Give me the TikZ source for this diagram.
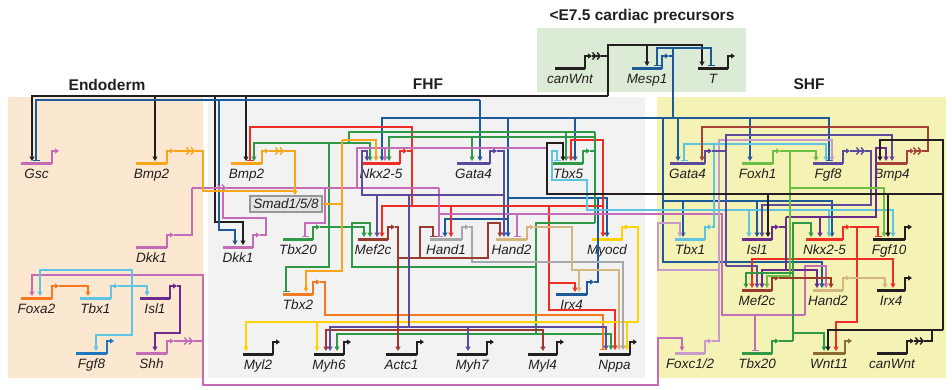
\documentclass[tikz,border=0pt]{standalone}
\usepackage{fontspec}
\setmainfont{Liberation Sans}
\usetikzlibrary{arrows.meta}
\definecolor{cblack}{HTML}{231F20}
\definecolor{cblue}{HTML}{1D5A99}
\definecolor{cred}{HTML}{EE2E24}
\definecolor{cgreen}{HTML}{2E9A47}
\definecolor{clgreen}{HTML}{6DBE45}
\definecolor{cpurple}{HTML}{5C4A9E}
\definecolor{cdpurple}{HTML}{6B2B8E}
\definecolor{clblue}{HTML}{5DC5E3}
\definecolor{cpink}{HTML}{C56CB8}
\definecolor{clilac}{HTML}{C79CCD}
\definecolor{corange}{HTML}{F8A51C}
\definecolor{cdorange}{HTML}{F47920}
\definecolor{cbrown}{HTML}{9B3B30}
\definecolor{cgray}{HTML}{A6A8AB}
\definecolor{ctan}{HTML}{D5B57E}
\definecolor{cyellow}{HTML}{FFD200}
\definecolor{cfgf}{HTML}{1C77BD}
\definecolor{colive}{HTML}{8B6B2F}
\definecolor{cbmp}{HTML}{A8413A}
\definecolor{bgpeach}{HTML}{FCE7D0}
\definecolor{bggray}{HTML}{F2F2F2}
\definecolor{bgyellow}{HTML}{F5F2B6}
\definecolor{bggreen}{HTML}{DCEBD5}
\tikzset{
  cn/.style={line width=1.4pt},
  act/.style={-{Triangle[length=4.5pt,width=5pt]}},
  rep/.style={-{Bar[width=7pt]}},
  sec/.style={-{Straight Barb[length=3pt,width=7pt]Straight Barb[length=3pt,width=7pt]}},
  genebar/.style={line width=3pt},
  prom/.style={line width=1.7pt,-{Triangle[length=4pt,width=5pt]}},
  lbl/.style={anchor=base,inner sep=0pt,text=cblack,font=\fontsize{13.5}{15}\selectfont\itshape},
  ttl/.style={anchor=base,inner sep=0pt,text=cblack,font=\fontsize{15.5}{18}\selectfont\bfseries},
  smadbox/.style={draw=cgray!90!black,line width=1.6pt,fill=black!10,inner sep=1.5pt,minimum width=72pt,minimum height=16pt,text=cblack,font=\fontsize{13.5}{15}\selectfont\itshape}
}
\newcommand{\gn}[6]{%
  \draw[genebar,#5] (#2,#4) -- (#3,#4);
  \draw[prom,#5] (#3,#4+1) -- (#3,#4-12) -- (#3+7,#4-12);
  \node[lbl] (#1) at ({(#2+#3)/2},#4+15) {#6};
}
\begin{document}
\begin{tikzpicture}[x=1pt,y=-1pt]
\useasboundingbox (0,0) rectangle (952,389);
% regions
\fill[bgpeach] (8,97) rectangle (203,378);
\fill[bggray] (208,97) rectangle (645,378);
\fill[bgyellow] (657,97) rectangle (946,378);
\fill[bggreen] (537,28) rectangle (746,92);
\node[ttl] (tEndo) at (107,90) {Endoderm};
\node[ttl] (tFHF) at (428,89) {FHF};
\node[ttl] (tSHF) at (809,89) {SHF};
\node[ttl] (tTop) at (642,20) {<E7.5 cardiac precursors};
% genes: top
\gn{cwnt}{555}{585}{68}{cblack}{canWnt}
\gn{mesp}{632}{662}{68}{cblue}{Mesp1}
\gn{tg}{698}{728}{68}{cblack}{T}
% endoderm
\gn{gsc}{21}{52}{163}{cpink}{Gsc}
\gn{bmpe}{136}{167}{163}{corange}{Bmp2}
\gn{dkke}{136}{167}{247}{cpink}{Dkk1}
\gn{foxa}{21}{52}{298}{cdorange}{Foxa2}
\gn{tbxe}{80}{111}{298}{clblue}{Tbx1}
\gn{isle}{140}{170}{298}{cdpurple}{Isl1}
\gn{fgfe}{76}{107}{353}{cfgf}{Fgf8}
\gn{shh}{136}{167}{353}{cpink}{Shh}
% FHF
\gn{bmpf}{231}{262}{163}{corange}{Bmp2}
\gn{nkxf}{362}{400}{163}{cred}{Nkx2-5}
\gn{gataf}{457}{490}{163}{cpurple}{Gata4}
\gn{tbxv}{553}{583}{163}{cgreen}{Tbx5}
\gn{dkkf}{223}{253}{247}{cpink}{Dkk1}
\gn{tbxtf}{283}{313}{239}{cgreen}{Tbx20}
\gn{mef}{358}{388}{239}{cbrown}{Mef2c}
\gn{hand}{430}{462}{239}{cgray}{Hand1}
\gn{handf}{496}{527}{239}{ctan}{Hand2}
\gn{myocd}{592}{622}{239}{cyellow}{Myocd}
\gn{tbxtwo}{283}{313}{294}{cdorange}{Tbx2}
\gn{irxf}{556}{587}{294}{cblue}{Irx4}
\gn{myltwo}{243}{273}{354}{cblack}{Myl2}
\gn{myhsix}{314}{344}{354}{cblack}{Myh6}
\gn{actc}{386}{417}{354}{cblack}{Actc1}
\gn{myhseven}{457}{487}{354}{cblack}{Myh7}
\gn{mylfour}{528}{557}{354}{cblack}{Myl4}
\gn{nppa}{599}{630}{354}{cblack}{Nppa}
\node[smadbox] (smad) at (286,204) {Smad1/5/8};
% SHF
\gn{gatas}{670}{705}{163}{cpurple}{Gata4}
\gn{foxh}{742}{773}{163}{clgreen}{Foxh1}
\gn{fgfs}{813}{843}{163}{cpurple}{Fgf8}
\gn{bmpfour}{877}{907}{163}{cbmp}{Bmp4}
\gn{tbxs}{675}{705}{239}{clblue}{Tbx1}
\gn{isls}{742}{772}{239}{cdpurple}{Isl1}
\gn{nkxs}{806}{843}{239}{cred}{Nkx2-5}
\gn{fgften}{873}{905}{239}{cblack}{Fgf10}
\gn{mefs}{742}{772}{290}{cbrown}{Mef2c}
\gn{hands}{813}{843}{290}{ctan}{Hand2}
\gn{irxs}{877}{905}{290}{cblack}{Irx4}
\gn{foxc}{675}{705}{353}{clilac}{Foxc1/2}
\gn{tbxts}{742}{772}{353}{cgreen}{Tbx20}
\gn{wnt}{813}{845}{353}{colive}{Wnt11}
\gn{cwnts}{877}{907}{353}{cblack}{canWnt}
% ---------- connectors ----------
% black canWnt (top)
\draw[cn,cblack,sec] (592,56) -- (601,56);
\draw[cn,cblack] (601,56) -- (608,56);
\draw[cn,cblack,act] (608,96) -- (608,45) -- (702,45) -- (702,66);
\draw[cn,cblack,act] (647,45) -- (647,66);
\draw[cn,cblack,act] (608,96) -- (32,96) -- (32,161);
\draw[cn,cblack,act] (155,96) -- (155,161);
\draw[cn,cblack,act] (246,96) -- (246,161);
\draw[cn,cblack,act] (215,96) -- (215,222) -- (243,222) -- (243,245);
% blue Mesp1
\draw[cn,cblue] (669,56) -- (673,56);
\draw[cn,cblue] (673,48) -- (673,118);
\draw[cn,cblue,rep] (673,48) -- (657,48) -- (657,66);
\draw[cn,cblue,rep] (673,48) -- (711,48) -- (711,66);
\draw[cn,cblue,act] (673,118) -- (382,118) -- (382,161);
\draw[cn,cblue,act] (480,100) -- (480,161);
\draw[cn,cblue,rep] (480,100) -- (36,100) -- (36,161);
\draw[cn,cblue,act] (219,100) -- (219,230) -- (235,230) -- (235,245);
\draw[cn,cblue,act] (575,118) -- (575,161);
\draw[cn,cblue,act] (508,118) -- (508,237);
\draw[cn,cblue,act] (508,198) -- (607,198) -- (607,237);
\draw[cn,cblue,act] (508,219) -- (445,219) -- (445,237);
\draw[cn,cblue] (594,282) -- (598,282) -- (598,198);
\draw[cn,cblue,rep] (673,118) -- (829,118) -- (829,161);
\draw[cn,cblue,act] (678,118) -- (678,161);
\draw[cn,cblue,act] (750,118) -- (750,161);
\draw[cn,cblue] (663,118) -- (663,201);
\draw[cn,cblue,act] (663,201) -- (832,201) -- (832,237);
\draw[cn,cblue,act] (683,201) -- (683,237);
\draw[cn,cblue,act] (757,201) -- (757,237);
\draw[cn,cblue,act] (663,201) -- (663,262) -- (822,262) -- (822,288);
% red Nkx2-5 FHF
\draw[cn,cred] (407,151) -- (412,151);
\draw[cn,cred,rep] (412,206) -- (412,127) -- (250,127) -- (250,161);
\draw[cn,cred,act] (412,206) -- (382,206) -- (382,237);
\draw[cn,cred,act] (412,206) -- (603,206) -- (603,237);
\draw[cn,cred,act] (451,206) -- (451,237);
\draw[cn,cred,act] (549,206) -- (549,310) -- (615,310) -- (615,350);
\draw[cn,cred,act] (549,283) -- (575,283) -- (575,292);
\draw[cn,cred,act] (603,206) -- (603,140) -- (571,140) -- (571,161);
% red Nkx2-5 SHF
\draw[cn,cred,rep] (850,227) -- (878,227) -- (878,237);
\draw[cn,cred,act] (857,227) -- (857,322) -- (836,322) -- (836,351);
\draw[cn,cred,act] (857,259) -- (893,259) -- (893,288);
\draw[cn,cred,act] (857,259) -- (752,259) -- (752,288);
% green Tbx5
\draw[cn,cgreen] (590,151) -- (595,151);
\draw[cn,cgreen] (595,132) -- (595,223);
\draw[cn,cgreen] (595,132) -- (349,132) -- (349,143);
\draw[cn,cgreen,act] (329,143) -- (254,143) -- (254,161);
\draw[cn,cgreen,act] (329,143) -- (370,143) -- (370,161);
\draw[cn,cgreen,act] (595,137) -- (389,137) -- (389,161);
\draw[cn,cgreen,act] (472,137) -- (472,161);
\draw[cn,cgreen,act] (566,132) -- (566,161);
\draw[cn,cgreen,rep] (329,143) -- (329,267) -- (286,267) -- (286,292);
\draw[cn,cgreen] (595,223) -- (536,223) -- (536,334);
\draw[cn,cgreen,act] (536,334) -- (337,334) -- (337,351);
\draw[cn,cgreen,act] (536,334) -- (611,334) -- (611,350);
\draw[cn,cgreen,act] (536,267) -- (352,267) -- (352,223) -- (370,223) -- (370,237);
\draw[cn,cgreen,act] (320,227) -- (364,227) -- (364,237);
% pink Dkk1 / Shh
\draw[cn,cpink] (174,235) -- (192,235) -- (192,188);
\draw[cn,cpink,sec] (192,188) -- (226,188);
\draw[cn,cpink] (226,188) -- (439,188);
\draw[cn,cpink] (260,235) -- (266,235) -- (266,218) -- (223,218) -- (223,188);
\draw[cn,cpink,rep] (325,188) -- (325,223) -- (305,223) -- (305,237);
\draw[cn,cpink,act] (357,188) -- (357,148) -- (385,148) -- (385,161);
\draw[cn,cpink] (385,148) -- (546,148);
\draw[cn,cpink,rep] (439,188) -- (439,237);
\draw[cn,cpink] (439,214) -- (722,214) -- (722,315) -- (805,315);
\draw[cn,cpink,rep] (517,214) -- (517,237);
\draw[cn,cpink,act] (805,315) -- (805,266) -- (826,266) -- (826,288);
\draw[cn,cpink,rep] (755,315) -- (755,351);
\draw[cn,cpink,sec] (174,341) -- (193,341);
\draw[cn,cpink] (193,341) -- (203,341);
\draw[cn,cpink,act] (203,341) -- (203,275) -- (32,275) -- (32,296);
\draw[cn,cpink,act] (203,341) -- (203,385) -- (658,385) -- (658,338) -- (682,338) -- (682,351);
% lilac Foxc1/2
\draw[cn,clilac,act] (712,341) -- (719,341) -- (719,140) -- (832,140) -- (832,161);
\draw[cn,clilac,act] (719,270) -- (658,270) -- (658,223) -- (680,223) -- (680,237);
% light blue Tbx1 SHF
\draw[cn,clblue] (712,227) -- (714,227) -- (714,144);
\draw[cn,clblue,rep] (714,144) -- (684,144) -- (684,161);
\draw[cn,clblue,act] (714,144) -- (826,144) -- (826,161);
\draw[cn,clblue,rep] (714,210) -- (587,210) -- (587,180) -- (552,180) -- (552,151) -- (557,151) -- (557,161);
\draw[cn,clblue,act] (714,210) -- (893,210) -- (893,237);
\draw[cn,clblue,act] (749,210) -- (749,237);
\draw[cn,clblue,act] (829,210) -- (829,237);
% endoderm
\draw[cn,clblue,act] (118,286) -- (147,286) -- (147,296);
\draw[cn,clblue,act] (132,286) -- (132,270) -- (40,270) -- (40,296);
\draw[cn,clblue,act] (132,286) -- (132,335) -- (96,335) -- (96,351);
\draw[cn,cdorange,act] (59,286) -- (88,286) -- (88,296);
\draw[cn,cdpurple,act] (177,286) -- (180,286) -- (180,333) -- (155,333) -- (155,351);
% orange Bmp2 / Smad
\draw[cn,corange,sec] (174,151) -- (195,151);
\draw[cn,corange] (195,151) -- (203,151) -- (203,191) -- (295,191);
\draw[cn,corange,sec] (269,151) -- (284,151);
\draw[cn,corange,act] (284,151) -- (295,151) -- (295,195);
\draw[cn,corange] (smad.east) -- (342,204);
\draw[cn,corange,act] (342,140) -- (342,271) -- (306,271) -- (306,292);
\draw[cn,corange,act] (342,140) -- (376,140) -- (376,161);
\draw[cn,cdorange,rep] (320,282) -- (325,282) -- (325,315) -- (603,315) -- (603,350);
% yellow Myocd
\draw[cn,cyellow] (629,227) -- (638,227) -- (638,322);
\draw[cn,cyellow,act] (638,322) -- (246,322) -- (246,351);
\draw[cn,cyellow,act] (317,322) -- (317,351);
\draw[cn,cyellow,act] (627,322) -- (627,350);
% gray Hand1
\draw[cn,cgray,act] (469,227) -- (472,227) -- (472,262) -- (623,262) -- (623,350);
% tan Hand2 FHF
\draw[cn,ctan,act] (534,227) -- (572,227) -- (572,270) -- (619,270) -- (619,350);
\draw[cn,ctan,act] (572,270) -- (579,270) -- (579,292);
% brown Mef2c FHF
\draw[cn,cbrown,act] (395,227) -- (398,227) -- (398,351);
\draw[cn,cbrown,act] (398,258) -- (488,258) -- (488,223) -- (500,223) -- (500,237);
\draw[cn,cbrown,rep] (420,258) -- (420,227) -- (433,227) -- (433,237);
\draw[cn,cbrown,act] (398,330) -- (326,330) -- (326,351);
\draw[cn,cbrown,act] (398,330) -- (543,330) -- (543,351);
% purple Gata4 FHF
\draw[cn,cpurple,act] (497,151) -- (504,151) -- (504,237);
\draw[cn,cpurple,act] (504,195) -- (362,195) -- (362,151) -- (367,151) -- (367,161);
\draw[cn,cpurple,act] (377,195) -- (377,237);
\draw[cn,cpurple] (409,195) -- (409,327);
\draw[cn,cpurple,act] (409,327) -- (330,327) -- (330,351);
\draw[cn,cpurple,act] (409,327) -- (606,327) -- (606,350);
\draw[cn,cpurple,act] (468,327) -- (468,351);
% purple Gata4 SHF
\draw[cn,cpurple] (712,151) -- (726,151);
\draw[cn,cpurple,act] (726,266) -- (726,135) -- (892,135) -- (892,161);
\draw[cn,cpurple,act] (726,266) -- (757,266) -- (757,288);
% dark purple Isl1 SHF
\draw[cn,cdpurple] (779,227) -- (786,227);
\draw[cn,cdpurple,act] (786,217) -- (786,270) -- (762,270) -- (762,288);
\draw[cn,cdpurple,act] (786,270) -- (817,270) -- (817,288);
\draw[cn,cdpurple,act] (786,217) -- (820,217) -- (820,237);
\draw[cn,cdpurple,act] (820,217) -- (876,217) -- (876,148) -- (886,148) -- (886,161);
% purple Fgf8 SHF
\draw[cn,cpurple,sec] (850,151) -- (865,151);
\draw[cn,cpurple,act] (865,151) -- (871,151) -- (871,205) -- (762,205) -- (762,237);
% light green Foxh1
\draw[cn,clgreen,act] (780,151) -- (816,151) -- (816,161);
\draw[cn,clgreen,act] (790,151) -- (790,188) -- (884,188) -- (884,237);
\draw[cn,clgreen,act] (790,188) -- (790,276) -- (767,276) -- (767,288);
% green Tbx20 SHF
\draw[cn,cgreen] (779,341) -- (793,341);
\draw[cn,cgreen,act] (793,341) -- (793,223) -- (811,223) -- (811,237);
\draw[cn,cgreen,act] (793,333) -- (824,333) -- (824,351);
\draw[cn,cgreen,act] (793,273) -- (746,273) -- (746,288);
% brown Mef2c SHF, tan Hand2 SHF
\draw[cn,cbrown,act] (779,278) -- (831,278) -- (831,288);
\draw[cn,ctan,act] (850,278) -- (885,278) -- (885,288);
% Bmp4
\draw[cn,cbmp,sec] (914,151) -- (922,151);
\draw[cn,cbmp,act] (922,151) -- (928,151) -- (928,127) -- (702,127) -- (702,161);
% black canWnt SHF
\draw[cn,cblack,sec] (914,341) -- (924,341);
\draw[cn,cblack] (924,341) -- (932,341) -- (932,330);
\draw[cn,cblack,act] (943,330) -- (828,330) -- (828,351);
\draw[cn,cblack,act] (943,330) -- (943,140) -- (880,140) -- (880,161);
\draw[cn,cblack,act] (943,194) -- (547,194) -- (547,143) -- (563,143) -- (563,161);
\draw[cn,cblack,act] (768,194) -- (768,237);
\draw[cn,cblack,act] (888,194) -- (888,237);
\end{tikzpicture}
\end{document}
